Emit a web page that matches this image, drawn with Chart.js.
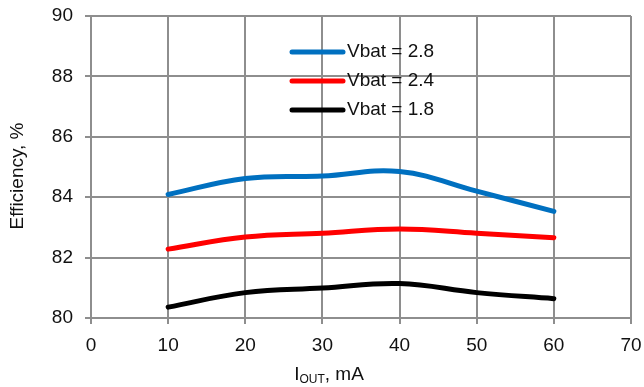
<!DOCTYPE html>
<html>
<head>
<meta charset="utf-8">
<script src="https://cdn.jsdelivr.net/npm/chart.js@4.4.0/dist/chart.umd.min.js"></script>
<style>
    html, body { margin: 0; padding: 0; background: #fff; }
</style>
</head>
<body>
<canvas id="myChart" width="644" height="387"></canvas>
<script>
// נתונים מהגרף
var iout = [10, 20, 30, 40, 50, 60];
var vbat28 = [84.09, 84.62, 84.70, 84.85, 84.20, 83.53];
var vbat24 = [82.28, 82.68, 82.81, 82.95, 82.81, 82.66];
var vbat18 = [80.36, 80.84, 80.99, 81.14, 80.84, 80.64];
var seriesLabels = ['Vbat = 2.8', 'Vbat = 2.4', 'Vbat = 1.8'];
var xTicks = [0, 10, 20, 30, 40, 50, 60, 70];
var yTicks = [80, 82, 84, 86, 88, 90];

var gridColor = '#8e8e8e';
var fontFamily = 'Arial, "Liberation Sans", sans-serif';

function toPoints(values) {
    var pts = [];
    for (var i = 0; i < iout.length; i++) {
        pts.push({ x: iout[i], y: values[i] });
    }
    return pts;
}

function makeSet(label, values, color) {
    return {
        label: label,
        data: toPoints(values),
        borderColor: color,
        backgroundColor: color,
        borderWidth: 5,
        borderCapStyle: 'round',
        pointRadius: 0,
        tension: 0.4,
        fill: false
    };
}

// מקרא וכותרות צירים
var extras = {
    id: 'extras',
    afterDraw: function (chart) {
        var ctx = chart.ctx;
        var area = chart.chartArea;
        ctx.save();
        ctx.fillStyle = '#111';
        ctx.textBaseline = 'middle';
        ctx.font = '19px ' + fontFamily;

        // legend
        var lx = area.left + 201;
        for (var i = 0; i < chart.data.datasets.length; i++) {
            var ds = chart.data.datasets[i];
            var ly = area.top + 36 + i * 29;
            ctx.strokeStyle = ds.borderColor;
            ctx.lineWidth = 5;
            ctx.lineCap = 'round';
            ctx.beginPath();
            ctx.moveTo(lx, ly);
            ctx.lineTo(lx + 51, ly);
            ctx.stroke();
            ctx.textAlign = 'left';
            ctx.fillText(ds.label, lx + 55, ly);
        }

        // x title with subscript
        var big = '19px ' + fontFamily;
        var small = '12px ' + fontFamily;
        ctx.font = big;
        var w1 = ctx.measureText('I').width;
        var w3 = ctx.measureText(', mA').width;
        ctx.font = small;
        var w2 = ctx.measureText('OUT').width;
        var tx = 329 - (w1 + w2 + w3) / 2;
        var ty = 375;
        ctx.textAlign = 'left';
        ctx.font = big;
        ctx.fillText('I', tx, ty);
        ctx.font = small;
        ctx.fillText('OUT', tx + w1, ty + 5);
        ctx.font = big;
        ctx.fillText(', mA', tx + w1 + w2, ty);

        // y title
        ctx.translate(18, 176);
        ctx.rotate(-Math.PI / 2);
        ctx.textAlign = 'center';
        ctx.fillText('Efficiency, %', 0, 0);
        ctx.restore();
    }
};

var ctx = document.getElementById('myChart').getContext('2d');
var myChart = new Chart(ctx, {
    type: 'line',
    data: {
        datasets: [
            makeSet(seriesLabels[0], vbat28, '#0070C0'),
            makeSet(seriesLabels[1], vbat24, '#FF0000'),
            makeSet(seriesLabels[2], vbat18, '#000000')
        ]
    },
    options: {
        responsive: false,
        animation: false,
        devicePixelRatio: 1,
        layout: { padding: { top: 16, right: 13, bottom: 0, left: 0 } },
        plugins: {
            legend: { display: false },
            tooltip: { enabled: false }
        },
        scales: {
            x: {
                type: 'linear',
                min: xTicks[0],
                max: xTicks[xTicks.length - 1],
                afterFit: function (scale) {
                    scale.height = 69;
                    scale.paddingLeft = 0;
                    scale.paddingRight = 0;
                },
                afterBuildTicks: function (scale) {
                    scale.ticks = xTicks.map(function (v) { return { value: v }; });
                },
                grid: { color: gridColor, lineWidth: 2, tickLength: 6 },
                border: { color: gridColor, width: 2 },
                ticks: { color: '#111', padding: 10, font: { size: 19, family: fontFamily } }
            },
            y: {
                min: yTicks[0],
                max: yTicks[yTicks.length - 1],
                afterFit: function (scale) {
                    scale.width = 91;
                    scale.paddingTop = 0;
                    scale.paddingBottom = 0;
                },
                afterBuildTicks: function (scale) {
                    scale.ticks = yTicks.map(function (v) { return { value: v }; });
                },
                grid: { color: gridColor, lineWidth: 2, tickLength: 6 },
                border: { color: gridColor, width: 2 },
                ticks: { color: '#111', padding: 12, font: { size: 19, family: fontFamily } }
            }
        }
    },
    plugins: [extras]
});
</script>
</body>
</html>
